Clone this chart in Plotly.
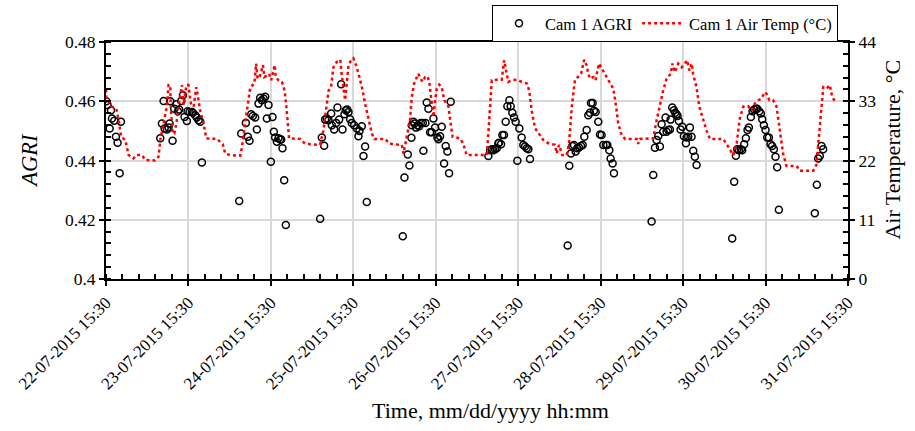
import pandas as pd
import plotly.graph_objects as go

START = "2015-07-22 15:30"

# Air temperature (°C): hours after 22-07-2015 15:30 and values
temp_hours = [0, 0.1, 1.7, 3.0, 3.7, 4.4, 5.6, 6.6, 8.0, 8.8, 10.5, 11.4, 14.3, 15.3, 15.8, 16.8, 17.7, 18.2,
              18.7, 18.9, 19.4, 19.9, 20.5, 21.1, 22.1, 22.6, 23.4, 24.0, 24.7, 25.5, 26.3, 26.7, 27.4, 28.4,
              29.2, 32.3, 34.0, 34.7, 36.2,
              39.1, 39.6, 40.5, 41.5, 42.0, 43.2, 43.7, 44.1, 44.7, 45.7, 46.1, 46.8, 47.5, 48.1, 48.6, 49.1,
              49.4, 50.2, 51.2, 52.0, 52.5, 52.9, 53.3, 56.5, 58.0, 62.3, 63.3, 63.8, 64.8, 65.5, 66.2, 67.2,
              68.2, 68.6, 69.1, 69.6, 70.6, 71.4,
              72.0, 72.5, 73.5, 74.5, 75.4, 76.4, 77.4, 78.1, 81.3, 82.5, 86.1, 86.6, 87.1, 87.7, 88.5, 89.0,
              89.7, 90.5, 90.9, 91.6, 92.2, 92.9, 93.6, 94.1, 94.6, 95.3, 95.8, 96.3, 97.0, 97.7, 98.5, 99.7,
              100.2, 100.9, 103.1, 104.0, 105.0, 108.9,
              110.8, 111.3, 111.8, 112.3, 113.7, 115.2, 115.9, 116.4, 117.1, 118.1, 119.6, 121.0, 122.5, 123.2,
              123.9, 124.9, 126.3, 127.3, 128.8, 130.7, 131.2, 131.9, 132.8, 134.1, 134.8, 135.6, 136.5, 138.3,
              139.2, 139.9, 140.4, 140.9, 141.9, 142.5, 143.5, 144.3, 145.3,
              146.7, 147.7, 148.5, 149.1, 150.1, 151.1, 154.5, 154.9, 155.4, 159.3, 160.3, 161.3, 162.2, 163.2,
              164.4, 164.9, 165.6, 166.6, 167.6, 168.5, 169.2, 169.8, 170.5, 170.9, 171.9, 172.7, 173.9, 174.8,
              175.8, 179.7, 181.1,
              182.6, 183.6, 184.5, 185.5, 186.9, 187.9, 188.9, 189.9, 190.8, 191.8, 192.3, 193.1, 194.2, 195.2,
              196.2, 197.1, 198.1, 201.0, 202.0, 205.9, 206.8, 207.5, 208.1, 208.8, 209.7, 210.7, 211.4, 212.2]
temp_vals = [35.2, 33.5, 32.0, 31.6, 29.5, 26.4, 25.8, 23.0, 22.4, 23.0, 23.0, 22.1, 22.0, 22.7, 25.8, 28.9, 32.0, 36.0,
             36.0, 31.3, 27.0, 27.0, 28.9, 32.0, 36.0, 32.3, 36.0, 36.0, 32.6, 32.0, 35.6, 34.1, 31.3, 28.9,
             26.1, 26.0, 25.0, 23.3, 23.0,
             22.9, 24.6, 28.9, 33.8, 35.6, 36.3, 40.0, 37.2, 37.5, 39.7, 37.5, 37.8, 38.1, 36.9, 38.1, 39.7,
             37.5, 36.9, 36.6, 35.0, 32.0, 28.3, 26.1, 26.0, 25.1, 24.9, 27.6, 30.1, 35.0, 35.6, 39.3, 40.3,
             40.7, 38.1, 35.0, 33.2, 39.7, 40.7,
             41.0, 40.3, 38.1, 35.6, 32.6, 29.5, 27.0, 26.0, 26.0, 25.1, 24.9, 23.3, 25.1, 27.0, 29.5, 33.8,
             36.3, 37.5, 38.1, 37.2, 36.6, 37.5, 37.6, 36.6, 34.1, 30.1, 33.2, 35.3, 36.1, 35.6, 33.2, 32.0,
             29.5, 26.4, 26.1, 25.1, 23.0, 23.0,
             23.0, 27.0, 33.2, 36.9, 37.0, 37.0, 40.6, 38.7, 36.6, 36.9, 37.0, 36.6, 36.3, 35.0,
             31.3, 28.0, 26.7, 25.8, 25.2, 24.9, 23.3, 24.9, 23.0, 23.0, 25.2, 32.0, 36.9, 38.1,
             40.7, 39.7, 38.1, 37.2, 37.5, 36.9, 40.0, 39.1, 38.1,
             36.3, 35.3, 32.0, 28.9, 26.7, 26.0, 26.0, 25.1, 26.0, 26.1, 29.5, 32.6, 35.0, 37.2,
             38.1, 40.0, 38.4, 40.0, 39.3, 40.0, 40.6, 38.7, 40.0, 38.1, 35.6, 32.0, 29.5, 27.6,
             26.0, 26.0, 24.6,
             23.0, 25.2, 29.8, 32.0, 32.1, 31.3, 32.6, 33.2, 33.5, 34.7, 34.4, 33.2, 33.2, 32.0,
             27.6, 23.3, 21.0, 21.0, 20.1, 20.1, 21.2, 26.4, 32.0, 35.6, 35.3, 36.0, 33.8, 33.0]

# AGRI: hours after 22-07-2015 15:30 and values
agri_hours = [0.1, 0.47, 1.06, 1.45, 1.74, 2.41, 2.9, 3.38, 3.97, 4.35,
              15.8, 16.28, 16.77, 17.06, 17.74, 18.22, 18.51, 18.71, 19.38, 19.87, 20.45, 20.94, 21.32,
              21.91, 22.39, 22.87, 23.55, 23.75, 24.33, 25.01, 25.3, 25.98, 26.46, 26.95, 27.43, 27.92,
              38.78, 39.36, 40.72, 41.3, 41.78, 42.27, 42.76, 43.43, 43.92, 44.4, 44.89, 45.37, 45.86,
              46.34, 46.83, 47.31, 47.99, 48.47, 48.86, 49.25, 49.74, 50.22, 50.71, 51.0, 51.38, 51.87, 52.35,
              62.34, 62.83, 63.5, 63.8, 64.28, 64.77, 65.55, 65.74, 66.42, 67.0, 67.38, 67.87, 68.45,
              68.84, 69.42, 69.81, 70.2, 70.58, 71.07, 71.55, 72.23, 73.01, 73.78, 74.46, 73.49, 75.43,
              74.95, 75.92,
              86.39, 86.88, 87.85, 88.33, 88.91, 89.01, 89.49, 89.78, 90.27, 90.75, 91.14, 91.63, 92.21,
              92.98, 92.4, 93.37, 93.86, 94.34, 94.83, 95.31, 95.8, 96.48, 96.77, 97.25, 97.74, 98.42,
              98.9, 99.38, 99.87, 100.35,
              111.31, 111.8, 112.28, 112.77, 113.25, 113.74, 114.22, 114.42, 115.0, 115.38, 115.87, 116.35,
              116.84, 117.42, 117.81, 118.29, 118.78, 119.26, 119.75, 120.33, 121.01, 121.49, 121.98,
              122.46, 122.95, 123.43,
              134.39, 134.87, 135.36, 135.75, 136.23, 136.72, 137.2, 137.69, 138.27, 138.76, 139.24,
              139.92, 140.4, 140.89, 141.18, 141.66, 142.05, 142.54, 143.31, 143.8, 144.28, 144.77,
              145.54, 145.93, 146.51, 146.9, 147.48, 147.87,
              158.83, 159.31, 159.8, 160.28, 160.77, 161.25, 161.74, 162.22, 162.9, 163.19, 163.68,
              164.16, 164.36, 164.84, 165.33, 165.71, 166.1, 166.39, 166.78, 167.26, 167.75, 168.23,
              168.81, 169.01, 169.49, 169.98, 170.46, 170.95, 171.43, 171.92,
              182.29, 182.87, 183.36, 183.75, 184.23, 184.81, 185.2, 185.78, 186.27, 186.75, 187.14,
              187.72, 188.21, 188.69, 189.18, 189.57, 190.15, 190.63, 191.02, 191.51, 191.99, 192.48,
              192.96, 193.45, 193.93, 194.42, 194.9, 195.38, 195.87,
              206.34, 206.93, 207.31, 207.8, 208.28, 208.77]
agri_vals = [0.4600, 0.4587, 0.4508, 0.4570, 0.4542, 0.4534, 0.4480, 0.4460, 0.4357, 0.4531,
             0.4475, 0.4525, 0.4601, 0.4508, 0.4505, 0.4511, 0.4525, 0.4600, 0.4467, 0.4575, 0.4590, 0.4566, 0.4572,
             0.4601, 0.4620, 0.4547, 0.4533, 0.4566, 0.4564, 0.4564, 0.4561, 0.4553, 0.4545, 0.4536, 0.4531, 0.4393,
             0.4263, 0.4491, 0.4527, 0.4480, 0.4467, 0.4556, 0.4550, 0.4545, 0.4505, 0.4592, 0.4612, 0.4603, 0.4609,
             0.4615, 0.4542, 0.4587, 0.4396, 0.4547, 0.4497, 0.4478, 0.4463, 0.4475, 0.4471, 0.4471, 0.4441, 0.4333, 0.4182,
             0.4203, 0.4478, 0.4450, 0.4538, 0.4542, 0.4536, 0.4559, 0.4519, 0.4505, 0.4527, 0.4579, 0.4538, 0.4657,
             0.4505, 0.4556, 0.4570, 0.4572, 0.4564, 0.4539, 0.4527, 0.4519, 0.4508, 0.4500, 0.4516, 0.4482, 0.4447,
             0.4415, 0.4260,
             0.4144, 0.4343, 0.4420, 0.4383, 0.4477, 0.4519, 0.4531, 0.4525, 0.4511, 0.4519, 0.4516, 0.4527, 0.4527,
             0.4527, 0.4433, 0.4596, 0.4575, 0.4495, 0.4495, 0.4542, 0.4511, 0.4478, 0.4472, 0.4482, 0.4514, 0.4390,
             0.4449, 0.4430, 0.4357, 0.4598,
             0.4415, 0.4435, 0.4438, 0.4435, 0.4438, 0.4441, 0.4458, 0.4460, 0.4455, 0.4486, 0.4486, 0.4531,
             0.4583, 0.4603, 0.4583, 0.4561, 0.4545, 0.4531, 0.4399, 0.4508, 0.4478, 0.4452, 0.4447,
             0.4441, 0.4438, 0.4405,
             0.4113, 0.4382, 0.4424, 0.4449, 0.4452, 0.4430, 0.4441, 0.4444, 0.4449, 0.4452, 0.4480,
             0.4503, 0.4553, 0.4561, 0.4594, 0.4594, 0.4568, 0.4564, 0.4531, 0.4488, 0.4486, 0.4452,
             0.4452, 0.4452, 0.4435, 0.4407, 0.4390, 0.4357,
             0.4194, 0.4351, 0.4443, 0.4469, 0.4483, 0.4447, 0.4522, 0.4497, 0.4545, 0.4497, 0.4503,
             0.4505, 0.4538, 0.4579, 0.4570, 0.4561, 0.4556, 0.4550, 0.4533, 0.4505, 0.4514, 0.4482,
             0.4458, 0.4478, 0.4480, 0.4511, 0.4480, 0.4433, 0.4413, 0.4385,
             0.4137, 0.4328, 0.4416, 0.4438, 0.4435, 0.4438, 0.4435, 0.4455, 0.4475, 0.4503, 0.4511,
             0.4547, 0.4566, 0.4572, 0.4575, 0.4575, 0.4566, 0.4559, 0.4539, 0.4519, 0.4503, 0.4478,
             0.4478, 0.4455, 0.4449, 0.4438, 0.4413, 0.4377, 0.4234,
             0.4222, 0.4318, 0.4407, 0.4415, 0.4449, 0.4438]

agri_ticks = [0.4, 0.42, 0.44, 0.46, 0.48]
agri_ticktext = ["0.4", "0.42", "0.44", "0.46", "0.48"]
temp_ticks = [0, 11, 22, 33, 44]
n_days = 9

start = pd.Timestamp(START)
end = start + pd.Timedelta(days=n_days)
temp_time = start + pd.to_timedelta(temp_hours, unit="h")
agri_time = start + pd.to_timedelta(agri_hours, unit="h")

DAY_MS = 86400000
FONT = "Liberation Serif"

fig = go.Figure()
fig.add_trace(go.Scatter(
    x=agri_time, y=agri_vals, mode="markers", name="Cam 1 AGRI",
    marker=dict(symbol="circle-open", size=7, color="black", line=dict(width=1.5, color="black")),
))
fig.add_trace(go.Scatter(
    x=temp_time, y=temp_vals, mode="lines", name="Cam 1 Air Temp (°C)", yaxis="y2",
    line=dict(color="red", dash="dot", width=2.5),
))

fig.update_layout(
    width=915, height=431,
    margin=dict(l=106, r=67, t=42, b=152, autoexpand=False),
    paper_bgcolor="white", plot_bgcolor="white",
    font=dict(family=FONT, size=17.5, color="black"),
    showlegend=True,
    legend=dict(
        orientation="h", xref="container", yref="container",
        x=838 / 915, xanchor="right", y=1 - 5 / 431, yanchor="top",
        bordercolor="black", borderwidth=1, bgcolor="white", itemwidth=42,
        font=dict(family=FONT, size=16.5, color="black"),
    ),
    xaxis=dict(
        type="date", range=[start, end], tick0=start, dtick=DAY_MS,
        tickformat="%d-%m-%Y %H:%M", tickangle=-45,
        tickfont=dict(size=17),
        showgrid=True, gridcolor="#d9d9d9", gridwidth=1.5,
        showline=True, linecolor="black", linewidth=2, mirror=True,
        ticks="outside", ticklen=5, tickwidth=1.5, tickcolor="black",
        minor=dict(tick0=start, dtick=DAY_MS / 5, ticks="inside", ticklen=5,
                   tickwidth=1.5, tickcolor="black", showgrid=False),
        zeroline=False, automargin=False,
    ),
    yaxis=dict(
        range=[0.4, 0.48], tickvals=agri_ticks, ticktext=agri_ticktext,
        showgrid=True, gridcolor="#d9d9d9", gridwidth=1.5,
        showline=True, linecolor="black", linewidth=2,
        ticks="outside", ticklen=5, tickwidth=1.5, tickcolor="black",
        minor=dict(tick0=0.4, dtick=0.004, ticks="inside", ticklen=5,
                   tickwidth=1.5, tickcolor="black", showgrid=False),
        zeroline=False, automargin=False,
    ),
    yaxis2=dict(
        range=[0, 44], tickvals=temp_ticks, overlaying="y", side="right",
        showgrid=False,
        showline=True, linecolor="black", linewidth=2,
        ticks="outside", ticklen=5, tickwidth=1.5, tickcolor="black",
        minor=dict(tick0=0, dtick=2.2, ticks="inside", ticklen=5,
                   tickwidth=1.5, tickcolor="black", showgrid=False),
        zeroline=False, automargin=False,
    ),
    annotations=[
        dict(text="<i>AGRI</i>", xref="paper", yref="paper", x=-0.104, y=0.502,
             textangle=-90, showarrow=False, font=dict(size=22.5), xanchor="center", yanchor="middle"),
        dict(text="Air Temperature, °C", xref="paper", yref="paper", x=1.060, y=0.544,
             textangle=-90, showarrow=False, font=dict(size=22), xanchor="center", yanchor="middle"),
        dict(text="Time, mm/dd/yyyy hh:mm", xref="paper", yref="paper", x=0.5176, y=-0.554,
             showarrow=False, font=dict(size=22), xanchor="center", yanchor="middle"),
    ],
)

fig.write_html("out.html")
